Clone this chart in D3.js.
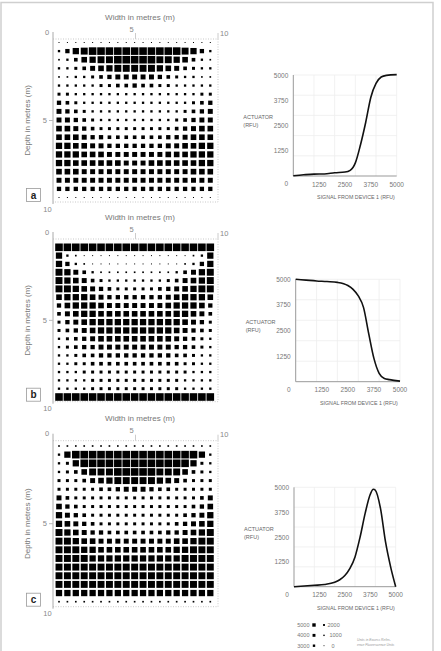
<!DOCTYPE html>
<html>
<head>
<meta charset="utf-8">
<script src="https://cdn.jsdelivr.net/npm/d3@7/dist/d3.min.js"></script>
<style>
  body { margin: 0; background: #fff; }
  svg { display: block; font-family: 'Liberation Sans', Arial, sans-serif; }
</style>
</head>
<body>
<svg id="chart" width="441" height="651"></svg>
<script>
// ---- data -------------------------------------------------------------
// one char per grid cell, 0-9 and 'a' = steps of 500 RFU (a = 5000)
const gridA = [
  '0000000000000000000',
  '2589aaaaaaaaaaa9852',
  '1247899aaaaa9987421',
  '2234678999998764322',
  '1122345666665432211',
  '2222233445443322222',
  '3322222222222222233',
  '5432222222222222345',
  '6543222222222223456',
  '6654322222222234566',
  '7765433333333345677',
  '7776554444444556777',
  '8877665555555667788',
  '8887776666666777888',
  '8877777766677777788',
  '7776666666666666777',
  '6666666666666666666',
  '5555555555555555555',
  '0000000000000000000'
]
const gridB = [
  'aaaaaaaaaaaaaaaaaaa',
  '8210000000000000128',
  '8521000000000001258',
  '9864211111111124689',
  '9876432222222346789',
  '9987654333334567899',
  '7888765555555678887',
  '5788876666666788875',
  '4678877777777788764',
  '3567888888888887653',
  '3456788888888876543',
  '2345677777777765432',
  '2345566666666655432',
  '2234455555555544322',
  '2233444444444443322',
  '2223333333333333222',
  '2222333333333332222',
  '2222333333333332222',
  'aaaaaaaaaaaaaaaaaaa'
]
const gridC = [
  '1111111111111111111',
  '28aaaaaaaaaaaaaaa82',
  '238aaaaaaaaaaaaa832',
  '2347999aaaaa9997432',
  '3334678999998764333',
  '3333344566654433333',
  '6433333333333333346',
  '7543333333333333457',
  '8654333333333334568',
  '8765433333333345678',
  '9876554444444556789',
  '9987766666666677899',
  '9998877777777788999',
  '9999888888888889999',
  '9999999999999999999',
  '9999999999999999999',
  '9999999999999999999',
  '8888888888888888888',
  '1111111111111111111'
]

// response curves, signal from device 1 vs actuator (RFU)
const signalA   = [0, 500, 1000, 1500, 2000, 2500, 2750, 3000, 3250, 3500, 3750, 4000, 4250, 4500, 5000]
const actuatorA = [10, 60, 95, 100, 160, 195, 280, 650, 1550, 2650, 3900, 4580, 4900, 4980, 5020]
const signalB   = [0, 500, 1000, 1500, 2000, 2500, 2750, 3000, 3250, 3500, 3750, 4000, 4250, 4500, 5000]
const actuatorB = [5000, 4960, 4920, 4890, 4850, 4700, 4510, 4190, 3630, 2350, 1140, 410, 160, 100, 30]
const signalC   = [0, 1000, 1500, 2000, 2250, 2500, 2750, 3000, 3250, 3500, 3750, 3900, 4000, 4250, 4500, 4750, 5000]
const actuatorC = [0, 70, 110, 220, 350, 560, 920, 1500, 2500, 3700, 4650, 4900, 4850, 3950, 2250, 1000, 0]

const metreTicks = [0, 5, 10]
const rfuTicks = [1250, 2500, 3750, 5000]
const rfuGrid = [1000, 2000, 3000, 4000, 5000]
const legendLeft = [5000, 4000, 3000]
const legendRight = [2000, 1000, 0]
const noteLines = ['Units in Excess Refer-', 'ence Fluorescence Units']

// ---- layout -----------------------------------------------------------
const panels = [
  { letter: 'a', grid: gridA, signal: signalA, actuator: actuatorA,
    top: 39, bottom: 202, rows: [42.5, 197.5],
    plot: { left: 293.3, right: 396.7, base: 176, ceil: 75 } },
  { letter: 'b', grid: gridB, signal: signalB, actuator: actuatorB,
    top: 239, bottom: 401.7, rows: [247.3, 397],
    plot: { left: 295.7, right: 400, base: 381.7, ceil: 279.3 } },
  { letter: 'c', grid: gridC, signal: signalC, actuator: actuatorC,
    top: 440.7, bottom: 606.7, rows: [446, 601.7],
    plot: { left: 294, right: 395.7, base: 586.7, ceil: 487.3 } }
]

const svg = d3.select('#chart')

// outer frame
svg.append('rect')
  .attr('x', 1).attr('y', 2.5)
  .attr('width', 432).attr('height', 700)
  .attr('fill', 'none')
  .attr('stroke', '#cfcfcf')
  .attr('stroke-width', 1.5)

const side = d3.scaleLinear().domain([0, 5000]).range([1, 7.6])
const decode = ch => parseInt(ch, 11) * 500

const drawGrid = (g, p) => {
  const xm = d3.scaleLinear().domain([0, 10]).range([53, 218])
  const ym = d3.scaleLinear().domain([0, 10]).range([p.top, p.bottom])
  const col = d3.scalePoint().domain(d3.range(19)).range([59, 210.3])
  const row = d3.scalePoint().domain(d3.range(19)).range(p.rows)

  // dotted box, solid left axis
  g.append('path')
    .attr('d', `M${xm(0)},${ym(0)}H${xm(10)}V${ym(10)}H${xm(0)}`)
    .attr('fill', 'none')
    .attr('stroke', '#bbb')
    .attr('stroke-width', 0.8)
    .attr('stroke-dasharray', '1,1.5')
  g.append('line')
    .attr('x1', xm(0)).attr('x2', xm(0))
    .attr('y1', ym(0) - 7).attr('y2', ym(10) + 2)
    .attr('stroke', '#aaa')
  g.selectAll('.ttick').data([5, 10]).join('line')
    .attr('class', 'ttick')
    .attr('x1', d => xm(d)).attr('x2', d => xm(d))
    .attr('y1', ym(0)).attr('y2', ym(0) - 6)
    .attr('stroke', '#ccc')
  g.append('line')
    .attr('x1', xm(0) - 4).attr('x2', xm(0))
    .attr('y1', ym(5)).attr('y2', ym(5))
    .attr('stroke', '#bbb')

  const label = (x, y, t, anchor) => g.append('text')
    .attr('x', x).attr('y', y)
    .attr('text-anchor', anchor || 'middle')
    .attr('dominant-baseline', 'central')
    .attr('font-size', 7.5)
    .attr('fill', '#888')
    .text(t)

  label(xm(0) - 6, ym(0) - 7, metreTicks[0])
  label(xm(5) - 4, ym(0) - 10, metreTicks[1])
  label(xm(10) + 2, ym(0) - 6, metreTicks[2], 'start')
  label(xm(0) - 6, ym(5), metreTicks[1], 'end')
  label(xm(0) - 5.5, ym(10) + 7, metreTicks[2])

  g.append('text')
    .attr('x', 140).attr('y', ym(0) - 22)
    .attr('text-anchor', 'middle')
    .attr('dominant-baseline', 'central')
    .attr('font-size', 8)
    .attr('fill', '#777')
    .text('Width in metres (m)')

  g.append('text')
    .attr('transform', `translate(27,${(ym(0) + ym(10)) / 2}) rotate(-90)`)
    .attr('text-anchor', 'middle')
    .attr('dominant-baseline', 'central')
    .attr('font-size', 8)
    .attr('fill', '#777')
    .text('Depth in metres (m)')

  // panel letter box
  g.append('rect')
    .attr('x', 26.5).attr('y', ym(10) - 13.5)
    .attr('width', 14).attr('height', 13)
    .attr('fill', '#fff')
    .attr('stroke', '#999')
    .attr('stroke-width', 0.8)
  g.append('text')
    .attr('x', 33.5).attr('y', ym(10) - 7)
    .attr('text-anchor', 'middle')
    .attr('dominant-baseline', 'central')
    .attr('font-size', 10)
    .attr('font-weight', 'bold')
    .attr('fill', '#222')
    .text(p.letter)

  const cells = p.grid.flatMap((s, r) =>
    Array.from(s, (ch, c) => ({ r, c, v: decode(ch) })))

  g.selectAll('.cell')
    .data(cells)
    .join('rect')
    .attr('class', 'cell')
    .attr('x', d => col(d.c) - side(d.v) / 2)
    .attr('y', d => row(d.r) - side(d.v) / 2)
    .attr('width', d => side(d.v))
    .attr('height', d => side(d.v))
    .attr('fill', '#000')
}

const drawCurve = (g, p) => {
  const { left, right, base, ceil } = p.plot
  const x = d3.scaleLinear().domain([0, 5000]).range([left, right])
  const y = d3.scaleLinear().domain([0, 5000]).range([base, ceil])

  // faint grid
  g.selectAll('.vgrid').data(rfuGrid).join('line')
    .attr('class', 'vgrid')
    .attr('x1', d => x(d)).attr('x2', d => x(d))
    .attr('y1', y(0)).attr('y2', y(5000))
    .attr('stroke', '#eee')
    .attr('stroke-width', 0.8)
  g.selectAll('.hgrid').data(rfuGrid).join('line')
    .attr('class', 'hgrid')
    .attr('x1', x(0)).attr('x2', x(5000))
    .attr('y1', d => y(d)).attr('y2', d => y(d))
    .attr('stroke', '#eee')
    .attr('stroke-width', 0.8)

  g.append('path')
    .attr('d', `M${x(0)},${y(5000)}V${y(0)}H${x(5000)}`)
    .attr('fill', 'none')
    .attr('stroke', '#999')
    .attr('stroke-width', 1)

  g.selectAll('.ylab').data(rfuTicks).join('text')
    .attr('class', 'ylab')
    .attr('x', x(0) - 5)
    .attr('y', d => y(d))
    .attr('text-anchor', 'end')
    .attr('dominant-baseline', 'central')
    .attr('font-size', 6.5)
    .attr('fill', '#777')
    .text(d => d)

  g.selectAll('.xlab').data(rfuTicks).join('text')
    .attr('class', 'xlab')
    .attr('x', d => x(d))
    .attr('y', y(0) + 8)
    .attr('text-anchor', 'middle')
    .attr('dominant-baseline', 'central')
    .attr('font-size', 6.5)
    .attr('fill', '#777')
    .text(d => d)

  g.append('text')
    .attr('x', x(0) - 7).attr('y', y(0) + 7.5)
    .attr('text-anchor', 'middle')
    .attr('dominant-baseline', 'central')
    .attr('font-size', 6.5)
    .attr('fill', '#777')
    .text(0)

  g.selectAll('.ytitle').data(['ACTUATOR', '(RFU)']).join('text')
    .attr('class', 'ytitle')
    .attr('x', x(0) - 50)
    .attr('y', (d, i) => y(2500) - 8.5 + i * 8)
    .attr('dominant-baseline', 'central')
    .attr('font-size', 5.5)
    .attr('fill', '#666')
    .text(d => d)

  g.append('text')
    .attr('x', (x(0) + x(5000)) / 2 + 11)
    .attr('y', y(0) + 21)
    .attr('text-anchor', 'middle')
    .attr('dominant-baseline', 'central')
    .attr('font-size', 5.3)
    .attr('fill', '#666')
    .text('SIGNAL FROM DEVICE 1 (RFU)')

  const line = d3.line()
    .x(d => x(d[0]))
    .y(d => y(d[1]))
    .curve(d3.curveMonotoneX)

  g.append('path')
    .datum(d3.zip(p.signal, p.actuator))
    .attr('d', line)
    .attr('fill', 'none')
    .attr('stroke', '#111')
    .attr('stroke-width', 1.6)
}

panels.forEach(p => {
  drawGrid(svg.append('g'), p)
  drawCurve(svg.append('g'), p)
})

// ---- legend -----------------------------------------------------------
const legendSide = d3.scaleLinear().domain([0, 5000]).range([0.9, 3.4])
const legendRow = d3.scalePoint().domain([0, 1, 2]).range([625, 645.7])
const legend = svg.append('g')

legend.selectAll('.lleft').data(legendLeft).join('text')
  .attr('class', 'lleft')
  .attr('x', 309.5)
  .attr('y', (d, i) => legendRow(i))
  .attr('text-anchor', 'end')
  .attr('dominant-baseline', 'central')
  .attr('font-size', 5.5)
  .attr('fill', '#777')
  .text(d => d)

legend.selectAll('.sleft').data(legendLeft).join('rect')
  .attr('class', 'sleft')
  .attr('x', d => 314 - legendSide(d) / 2)
  .attr('y', (d, i) => legendRow(i) - legendSide(d) / 2)
  .attr('width', d => legendSide(d))
  .attr('height', d => legendSide(d))
  .attr('fill', '#000')

legend.selectAll('.sright').data(legendRight).join('rect')
  .attr('class', 'sright')
  .attr('x', d => 324 - legendSide(d) / 2)
  .attr('y', (d, i) => legendRow(i) - legendSide(d) / 2)
  .attr('width', d => legendSide(d))
  .attr('height', d => legendSide(d))
  .attr('fill', '#000')

legend.selectAll('.lright').data(legendRight).join('text')
  .attr('class', 'lright')
  .attr('x', (d, i) => 327.5 + i * 2)
  .attr('y', (d, i) => legendRow(i))
  .attr('dominant-baseline', 'central')
  .attr('font-size', 5.5)
  .attr('fill', '#777')
  .text(d => d)

legend.selectAll('.note').data(noteLines).join('text')
  .attr('class', 'note')
  .attr('x', 357)
  .attr('y', (d, i) => 639.7 + i * 5)
  .attr('dominant-baseline', 'central')
  .attr('font-size', 3.4)
  .attr('font-style', 'italic')
  .attr('fill', '#999')
  .text(d => d)
</script>
</body>
</html>
